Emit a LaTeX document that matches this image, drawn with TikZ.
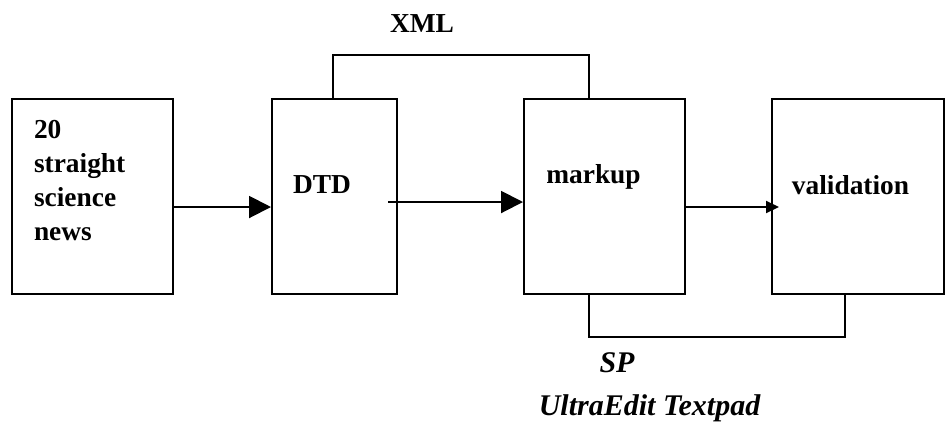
\documentclass[tikz,border=0pt]{standalone}
\usepackage{fontspec}
\setmainfont{Liberation Serif}
\usetikzlibrary{arrows.meta}

\begin{document}
\begin{tikzpicture}[x=0.5pt, y=-0.5pt, line width=1pt,
    box/.style={draw, line width=1pt, inner sep=0pt, minimum height=97.5pt},
    lbl/.style={font=\fontsize{13.7}{17}\selectfont\bfseries, inner sep=0pt},
    ital/.style={font=\fontsize{15}{18}\selectfont\bfseries\itshape, inner sep=0pt},
    big/.style={-{Triangle[length=11pt,width=11pt]}},
    small/.style={-{Triangle[length=6.5pt,width=6pt]}}]

    \useasboundingbox (0,0) rectangle (946,425);

    \node[box, minimum width=80.5pt] (news) at (92.5, 196.5) {};
    \node[box, minimum width=62.5pt] (dtd) at (334.5, 196.5) {};
    \node[box, minimum width=80.5pt] (markup) at (604.5, 196.5) {};
    \node[box, minimum width=86pt] (valid) at (858, 196.5) {};

    \node[lbl, align=left, anchor=west] (newstext) at (33, 181) {20\\straight\\science\\news};
    \node[lbl] (dtdtext) at (322, 185) {DTD};
    \node[lbl] (markuptext) at (593.5, 177) {markup};
    \node[lbl] (validtext) at (850.5, 185) {validation};
    \node[lbl] (xml) at (422, 24) {XML};
    \node[ital] (sp) at (617, 363) {SP};
    \node[ital] (tools) at (649.5, 408) {UltraEdit Textpad};

    \draw [big] ([yshift=-5.25pt]news.east) to ([yshift=-5.25pt]dtd.west);
    \draw [big] ([xshift=-5pt, yshift=-2.75pt]dtd.east) to ([yshift=-2.75pt]markup.west);
    \draw [small] ([yshift=-5.25pt]markup.east) to ([xshift=4pt, yshift=-5.25pt]valid.west);
    \draw ([xshift=-0.75pt]dtd.north) -- ++(0,21.5pt) -| ([xshift=-7.75pt]markup.north);
    \draw ([xshift=-7.75pt]markup.south) -- ++(0,-21pt) -| ([xshift=-6.5pt]valid.south);

  \end{tikzpicture}
\end{document}
